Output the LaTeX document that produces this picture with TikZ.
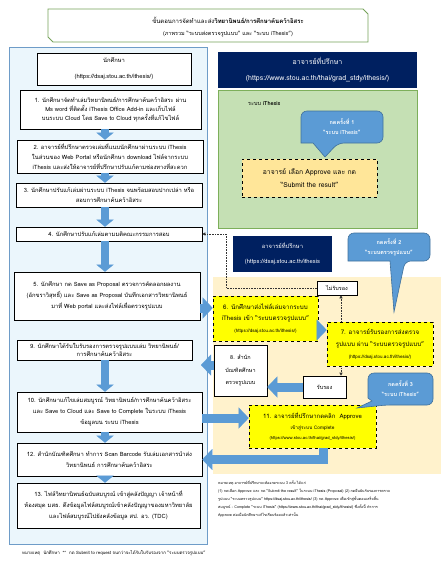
\documentclass[tikz,border=0pt]{standalone}
\usepackage{fontspec}
\setmainfont[Script=Thai]{Loma}
\usetikzlibrary{arrows.meta}
\definecolor{panelblue}{HTML}{EBF6FC}
\definecolor{panelline}{HTML}{6E9CC8}
\definecolor{arrowblue}{HTML}{5B9BD5}
\definecolor{calloutblue}{HTML}{5B9BD5}
\definecolor{calloutline}{HTML}{41719C}
\definecolor{navy}{HTML}{002060}
\definecolor{greenfill}{HTML}{C5E0B4}
\definecolor{greenline}{HTML}{7DAF5A}
\definecolor{titleline}{HTML}{76A35A}
\definecolor{dashfill}{HTML}{FFE699}
\definecolor{beige}{HTML}{FFF2CC}
\definecolor{yel}{HTML}{FFFF00}
\newcommand\myfs[2]{\fontsize{#1}{#2}\selectfont}
\begin{document}
\begin{tikzpicture}[x=1pt,y=-1pt,
  wbox/.style={draw=black, fill=white, line width=0.6pt, align=center, inner sep=1pt, font=\myfs{5.8}{8.8}},
  ybox/.style={draw=black, fill=yel, dashed, line width=0.7pt, align=center, inner sep=1pt, font=\myfs{6}{8.5}},
  navybox/.style={fill=navy, text=white, align=center, inner sep=1pt},
  calloutshape/.style={fill=calloutblue, draw=calloutline, line width=0.6pt},
  callouttext/.style={text=white, align=center, font=\myfs{5.5}{10}\bfseries},
  varr/.style={draw=arrowblue, line width=8pt, -{Triangle[width=17pt,length=7pt,line width=0.01pt]}},
  harr/.style={draw=arrowblue, line width=9pt, line join=miter, -{Triangle[width=21pt,length=10pt,line width=0.01pt]}},
  dotarr/.style={draw=black!80, densely dotted, line width=0.6pt, -{Triangle[width=3pt,length=3pt]}}
]
\useasboundingbox (0,0) rectangle (447,568);
\fill[white] (0,0) rectangle (447,568);

% ---------- title ----------
\draw[titleline, line width=0.8pt, fill=white] (48,9) -- (363,9) -- (368,14) -- (368,42) -- (53,42) -- (48,37) -- cycle;
\node[font=\myfs{6}{7}] (t1) at (228,20) {ขั้นตอนการจัดทำและส่ง\textbf{วิทยานิพนธ์/การศึกษาค้นคว้าอิสระ}};
\node[font=\myfs{5.5}{7}] (t2) at (228,34) {(ภาพรวม “ระบบส่งตรวจรูปแบบ” และ “ระบบ iThesis”)};

% ---------- left panel ----------
\draw[panelline, fill=panelblue, line width=0.7pt] (9,47) rectangle (207,544);
\coordinate (ax) at (105,0);

\node[wbox, minimum width=154pt, minimum height=32pt, font=\myfs{5.8}{16}] (stud) at (114,69) {นักศึกษา\\(https://dsaj.stou.ac.th/ithesis/)};
\node[wbox, minimum width=181pt, minimum height=39pt] (b1) at (110.5,109.5) {1. นักศึกษาจัดทำเล่มวิทยานิพนธ์/การศึกษาค้นคว้าอิสระ ผ่าน\\Ms word ที่ติดตั้ง iThesis Office Add-in และเก็บไฟล์\\บนระบบ Cloud โดย Save to Cloud ทุกครั้งที่แก้ไขไฟล์};
\node[wbox, minimum width=186pt, minimum height=33pt, font=\myfs{5.8}{10}] (b2) at (110,156.5) {2. อาจารย์ที่ปรึกษาตรวจเล่มที่แนบนักศึกษาผ่านระบบ iThesis\\ในส่วนของ Web Portal หรือนักศึกษา download ไฟล์จากระบบ\\iThesis และส่งให้อาจารย์ที่ปรึกษาปรับแก้ตามช่องทางที่สะดวก};
\node[wbox, minimum width=186pt, minimum height=24pt, font=\myfs{5.8}{10}] (b3) at (109,195) {3. นักศึกษาปรับแก้เล่มผ่านระบบ iThesis จนพร้อมสอบปากเปล่า หรือ\\สอบการศึกษาค้นคว้าอิสระ};
\node[wbox, minimum width=186pt, minimum height=14pt] (b4) at (109,234) {4. นักศึกษาปรับแก้เล่มตามมติคณะกรรมการสอบ};
\node[wbox, minimum width=186pt, minimum height=48pt, font=\myfs{5.8}{11}] (b5) at (107,296) {5. นักศึกษา กด Save as Proposal ตรวจการคัดลอกผลงาน\\(อักขราวิสุทธิ์) และ Save as Proposal บันทึกเอกสารวิทยานิพนธ์\\มาที่ Web portal และส่งไฟล์เพื่อตรวจรูปแบบ};
\node[wbox, minimum width=175pt, minimum height=20pt] (b9) at (104.5,350) {9. นักศึกษาได้รับใบรับรองการตรวจรูปแบบเล่ม วิทยานิพนธ์/\\การศึกษาค้นคว้าอิสระ};
\node[wbox, minimum width=185pt, minimum height=40pt, font=\myfs{5.8}{11}] (b10) at (109.5,412) {10. นักศึกษาแก้ไขเล่มสมบูรณ์ วิทยานิพนธ์/การศึกษาค้นคว้าอิสระ\\และ Save to Cloud และ Save to Complete ในระบบ iThesis\\ข้อมูลบน ระบบ iThesis};
\node[wbox, minimum width=185pt, minimum height=33pt, font=\myfs{5.8}{11}] (b12) at (109.5,459.5) {12. สำนักบัณฑิตศึกษา ทำการ Scan Barcode รับเล่มเอกสารนำส่ง\\วิทยานิพนธ์ การศึกษาค้นคว้าอิสระ};
\node[wbox, minimum width=183pt, minimum height=45pt, font=\myfs{5.8}{11}] (b13) at (108.5,505.5) {13. ไฟล์วิทยานิพนธ์ฉบับสมบูรณ์ เข้าสู่คลังปัญญา เจ้าหน้าที่\\ห้องสมุด มสธ. ดึงข้อมูลไฟล์สมบูรณ์เข้าคลังปัญญาของมหาวิทยาลัย\\และไฟล์สมบูรณ์ไปยังคลังข้อมูล สป. อว. (TDC)};

\draw[varr] (b1.south -| ax) -- (b2.north -| ax);
\draw[varr] (b2.south -| ax) -- (b3.north -| ax);
\draw[varr] (b3.south -| ax) -- (b4.north -| ax);
\draw[varr] (b4.south -| ax) -- (b5.north -| ax);
\draw[varr] (b9.south -| ax) -- (b10.north -| ax);
\draw[varr] (b10.south -| ax) -- (b12.north -| ax);
\draw[varr] (b12.south -| ax) -- (b13.north -| ax);

% ---------- right: advisor / iThesis ----------
\node[navybox, minimum width=199pt, minimum height=36pt, font=\myfs{7}{16}] (nav1) at (317.5,70) {อาจารย์ที่ปรึกษา\\(https://www.stou.ac.th/thai/grad\_stdy/ithesis/)};
\draw[greenline, fill=greenfill, line width=0.7pt] (218,90) rectangle (417,228);
\node[anchor=west, font=\myfs{5.5}{6}, inner sep=0pt] (lbl) at (248,104) {ระบบ \textbf{iThesis}};
\draw[calloutshape] (301,127) [rounded corners=6pt] -- (301,111) -- (383,111) -- (383,143) -- (338,143) [sharp corners] -- (325,157) -- (313,143) -- (301,143) [rounded corners=6pt] -- cycle;
\node[callouttext] (c1) at (342,127) {กดครั้งที่ 1\\“ระบบ iThesis”};
\node[draw=black, dashed, line width=0.7pt, fill=dashfill, minimum width=135pt, minimum height=38pt, align=center, font=\myfs{6.8}{13}] (d1) at (309.5,178) {อาจารย์ เลือก Approve และ กด\\“Submit the result”};

% ---------- right: format-check system ----------
\fill[beige] (213,277) rectangle (441,474);
\node[navybox, minimum width=99pt, minimum height=36pt, font=\myfs{5.8}{15}] (nav2) at (282.5,254) {อาจารย์ที่ปรึกษา\\(https://dsaj.stou.ac.th/ithesis};
\draw[calloutshape] (348,247) [rounded corners=6pt] -- (348,233) -- (430,233) -- (430,261) -- (405,261) [sharp corners] -- (394,312) -- (390,261) -- (348,261) [rounded corners=6pt] -- cycle;
\node[callouttext] (c2) at (389,247) {กดครั้งที่ 2\\“ระบบตรวจรูปแบบ”};

\node[wbox, minimum width=40pt, minimum height=14pt, font=\myfs{5.5}{7}] (nr) at (337,288) {ไม่รับรอง};
\node[ybox, minimum width=105pt, minimum height=45pt, font=\myfs{6.2}{11.5}] (b6) at (265.5,318.5) {6. นักศึกษาส่งไฟล์เล่มจากระบบ\\iThesis เข้า “ระบบตรวจรูปแบบ”\\{\myfs{4.6}{5}(https://dsaj.stou.ac.th/ithesis/)}};
\node[ybox, minimum width=106pt, minimum height=44pt, font=\myfs{6.2}{12}] (b7) at (380,344) {7. อาจารย์รับรองการส่งตรวจ\\รูปแบบ ผ่าน “ระบบตรวจรูปแบบ”\\{\myfs{4.6}{5}(https://dsaj.stou.ac.th/ithesis/)}};
\node[wbox, minimum width=53pt, minimum height=51pt, font=\myfs{5.5}{12.5}] (b8) at (240.5,370.5) {8. สำนัก\\บัณฑิตศึกษา\\ตรวจรูปแบบ};
\node[wbox, minimum width=43pt, minimum height=22pt, font=\myfs{5.5}{7}] (rr) at (324.5,387) {รับรอง};
\node[ybox, minimum width=127pt, minimum height=43pt, font=\myfs{6}{10.5}] (b11) at (312.5,426.5) {11. อาจารย์ที่ปรึกษากดคลิก \ Approve\\{\myfs{4.8}{5}เข้าสู่ระบบ Complete}\\{\myfs{4.2}{5}(https://www.stou.ac.th/thai/grad\_stdy/ithesis/)}};
\draw[calloutshape] (368,389) [rounded corners=6pt] -- (368,373) -- (433,373) -- (433,405) -- (386,405) [sharp corners] -- (357,408) -- (372,401) -- (368,398) [rounded corners=6pt] -- cycle;
\node[callouttext] (c3) at (400.5,389) {กดครั้งที่ 3\\“ระบบ iThesis”};

% ---------- connectors ----------
\coordinate (y56) at (0,308);
\coordinate (y67) at (0,330);
\coordinate (y11) at (0,418);
\coordinate (ex) at (323,0);
\coordinate (dx) at (341,0);
\coordinate (dc) at (226,234);
\coordinate (t89) at (201,365);
\draw[harr] (b5.east |- y56) -- (b6.west |- y56);
\draw[harr] (b6.east |- y67) -- (b7.west |- y67);
\draw[harr] (rr.west) -- (b8.east |- rr.west);
\draw[harr] (b8.west |- t89) -- (t89);
\draw[harr] (b10.east |- y11) -- (b11.west |- y11);
\draw[harr] (b11.south -| ex) |- (b12.east);
\draw[dotarr] (b7.north -| dx) -- (nr.south -| dx);
\draw[dotarr] (nr.west) -| (dc) -- (b4.east);
\draw[dotarr] (b7.south -| dx) -- (rr.north -| dx);

% ---------- notes ----------
\node[anchor=north west, align=left, inner sep=0pt, font=\myfs{3.7}{8}] (note) at (218,480) {หมายเหตุ อาจารย์ที่ปรึกษาจะต้องกดระบบ 3 ครั้ง ได้แก่\\(1) กดเลือก Approve และ กด “Submit the result” ในระบบ iThesis (Proposal) (2) กดยืนยันรับรองการตรวจ\\รูปแบบ “ระบบตรวจรูปแบบ” https://dsaj.stou.ac.th/ithesis/ (3) กด Approve เพื่อเข้าสู่ขั้นตอนเสร็จสิ้น\\สมบูรณ์ - Complete “ระบบ iThesis” (https://www.stou.ac.th/thai/grad\_stdy/ithesis/) ซึ่งทั้งนี้ ทำการ\\Approve ต่อเมื่อนักศึกษาแก้ไขเรียบร้อยแล้วเท่านั้น};
\node[anchor=west, inner sep=0pt, font=\myfs{4.4}{5}] (foot) at (22,553) {หมายเหตุ \ นักศึกษา \ ** \ กด Submit to request จนกว่าจะได้รับใบรับรองจาก “ระบบตรวจรูปแบบ”};
\end{tikzpicture}
\end{document}
